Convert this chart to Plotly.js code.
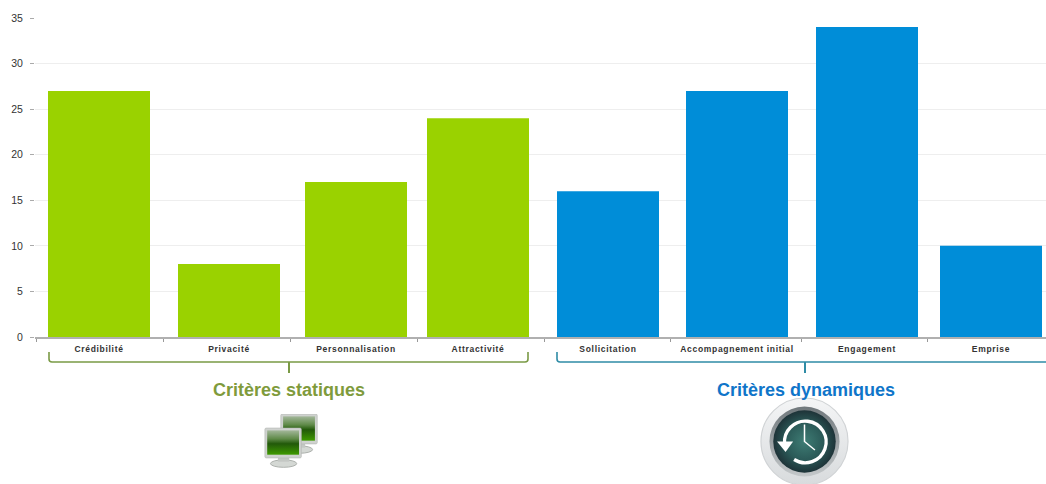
<!DOCTYPE html>
<html><head><meta charset="utf-8">
<script src="https://cdn.plot.ly/plotly-3.0.1.min.js"></script>
<style>html,body{margin:0;padding:0;background:#fff}#c{width:1046px;height:484px}.xtick text{letter-spacing:.7px}</style>
</head><body><div id="c"></div>
<script>
var staticCategories = ["Crédibilité","Privacité","Personnalisation","Attractivité"];
var staticValues = [27,8,17,24];
var dynamicCategories = ["Sollicitation","Accompagnement initial","Engagement","Emprise"];
var dynamicValues = [16,27,34,10];
var groupTitles = ["Critères statiques","Critères dynamiques"];
var yTicks = [0,5,10,15,20,25,30,35];

// Layout geometry, expressed in the pixel-like units of the x axis
var W=1046,H=484,L=35,T=18,B=337;
var staticCentres=[99,229,356,478], dynamicCentres=[608,737,867,991];
var dividers=[36,163,290,417,544,670,801,927];
var barW=102;
function px(x){return (x-L)/(W-L);}
function py(y){return 1-(y-T)/(B-T);}

function bracket(x0,x1,xs,colour,openRight){
  var d='M '+x0+' '+py(352)+' L '+x0+' '+py(359)+' Q '+x0+' '+py(362)+' '+(x0+3)+' '+py(362)+' L '+(openRight?x1:x1-3)+' '+py(362);
  if(!openRight) d+=' Q '+x1+' '+py(362)+' '+x1+' '+py(359)+' L '+x1+' '+py(352);
  return [
   {type:'path',xref:'x',yref:'paper',path:d,line:{color:colour,width:1.6}},
   {type:'line',xref:'x',yref:'paper',x0:xs,x1:xs,y0:py(362),y1:py(373),line:{color:colour,width:2}}
  ];
}
var monitor=function(x,y,id){return '<g transform="translate('+x+','+y+')">'+
 '<ellipse cx="20" cy="38" rx="14" ry="4" fill="#d4d8d4" stroke="#a8aca8" stroke-width="1"/>'+
 '<rect x="14" y="29" width="12" height="7" fill="#c4c8c4"/>'+
 '<rect x="0" y="0" width="39" height="32" rx="1.5" fill="#cfd2cf" stroke="#b0b3b0" stroke-width="0.6"/>'+
 '<rect x="2.5" y="2.5" width="34" height="26" fill="url(#'+id+')"/></g>';};
var monitorsSvg='<svg xmlns="http://www.w3.org/2000/svg" width="62" height="62" viewBox="0 0 62 62"><defs>'+
 '<linearGradient id="g" x1="0" y1="0" x2="0" y2="1"><stop offset="0" stop-color="#a3b79a"/><stop offset="0.35" stop-color="#5f8a48"/><stop offset="0.55" stop-color="#22590a"/><stop offset="1" stop-color="#3f9a00"/></linearGradient>'+
 '</defs>'+monitor(19,0,'g')+monitor(2,15,'g')+'</svg>';
var clockSvg='<svg xmlns="http://www.w3.org/2000/svg" width="94" height="94" viewBox="0 0 94 94"><defs>'+
 '<radialGradient id="r" cx="0.5" cy="0.5" r="0.5"><stop offset="0" stop-color="#3e7c74"/><stop offset="0.6" stop-color="#2b5a58"/><stop offset="1" stop-color="#1e3338"/></radialGradient>'+
 '<linearGradient id="o" x1="0" y1="0" x2="0" y2="1"><stop offset="0" stop-color="#f4f5f6"/><stop offset="1" stop-color="#d8dbdd"/></linearGradient>'+
 '<linearGradient id="m" x1="0" y1="0" x2="0" y2="1"><stop offset="0" stop-color="#70787c"/><stop offset="1" stop-color="#c4c8ca"/></linearGradient></defs>'+
 '<circle cx="47" cy="47" r="46" fill="url(#o)" stroke="#d0d3d5" stroke-width="1.2"/>'+
 '<circle cx="47" cy="47" r="37" fill="url(#m)"/>'+
 '<circle cx="47" cy="47" r="33" fill="url(#r)"/>'+
 '<path d="M26 50A22 22 0 1 1 36 66" fill="none" stroke="#fff" stroke-width="3.5"/>'+
 '<path d="M18 47H35L27 58Z" fill="#fff"/>'+
 '<path d="M47 29V47L58 56" fill="none" stroke="#fff" stroke-width="1.6"/>'+
 '</svg>';
function img(svg,x,y,w,h){return {source:'data:image/svg+xml;charset=utf-8,'+encodeURIComponent(svg),xref:'paper',yref:'paper',
  x:px(x),y:py(y),sizex:w/(W-L),sizey:h/(B-T),xanchor:'left',yanchor:'top',sizing:'stretch',layer:'above'};}

var traces=[
 {type:'bar',x:staticCentres,y:staticValues,width:barW,marker:{color:'#9AD200'},text:staticCategories,hoverinfo:'text+y',name:groupTitles[0]},
 {type:'bar',x:dynamicCentres,y:dynamicValues,width:barW,marker:{color:'#008DD8'},text:dynamicCategories,hoverinfo:'text+y',name:groupTitles[1]}
];
traces.forEach(function(t){t.textposition='none';});

var layout={
 width:W,height:H,margin:{l:L,r:0,t:T,b:H-B,pad:0},showlegend:false,
 paper_bgcolor:'#fff',plot_bgcolor:'#fff',font:{family:'"Liberation Sans",Arial,sans-serif',color:'#333'},
 xaxis:{range:[L,W],tickmode:'array',tickvals:staticCentres.concat(dynamicCentres),ticktext:staticCategories.concat(dynamicCategories),
   ticks:'',tickangle:0,showgrid:false,zeroline:false,showline:true,linecolor:'#b0b0b0',linewidth:1.5,
   tickfont:{size:8.5,color:'#333',weight:700},ticklabelstandoff:3,
   minor:{tickmode:'array',tickvals:dividers,ticks:'outside',ticklen:3,tickwidth:1,tickcolor:'#999',showgrid:false}},
 yaxis:{range:[0,35],tickmode:'array',tickvals:yTicks,ticks:'outside',ticklen:4,tickcolor:'#aaa',tickwidth:1,
   showgrid:true,gridcolor:'#eeeeee',gridwidth:1,zeroline:false,showline:false,
   tickfont:{size:10.5,color:'#333'},ticklabelstandoff:5},
 shapes:[].concat(bracket(49,528,289,'#7A9A45',false),bracket(557,W,805,'#2F8CA6',true)),
 annotations:[
  {text:groupTitles[0],xref:'x',yref:'paper',x:289,y:py(390),showarrow:false,xanchor:'center',yanchor:'middle',font:{size:18,color:'#7F9B3C',weight:700}},
  {text:groupTitles[1],xref:'x',yref:'paper',x:806,y:py(390),showarrow:false,xanchor:'center',yanchor:'middle',font:{size:18,color:'#0F75C9',weight:700}}
 ],
 images:[img(monitorsSvg,263,414,58,58),img(clockSvg,760,397,89,89)]
};
Plotly.newPlot('c',traces,layout,{staticPlot:true,displayModeBar:false});
</script></body></html>
